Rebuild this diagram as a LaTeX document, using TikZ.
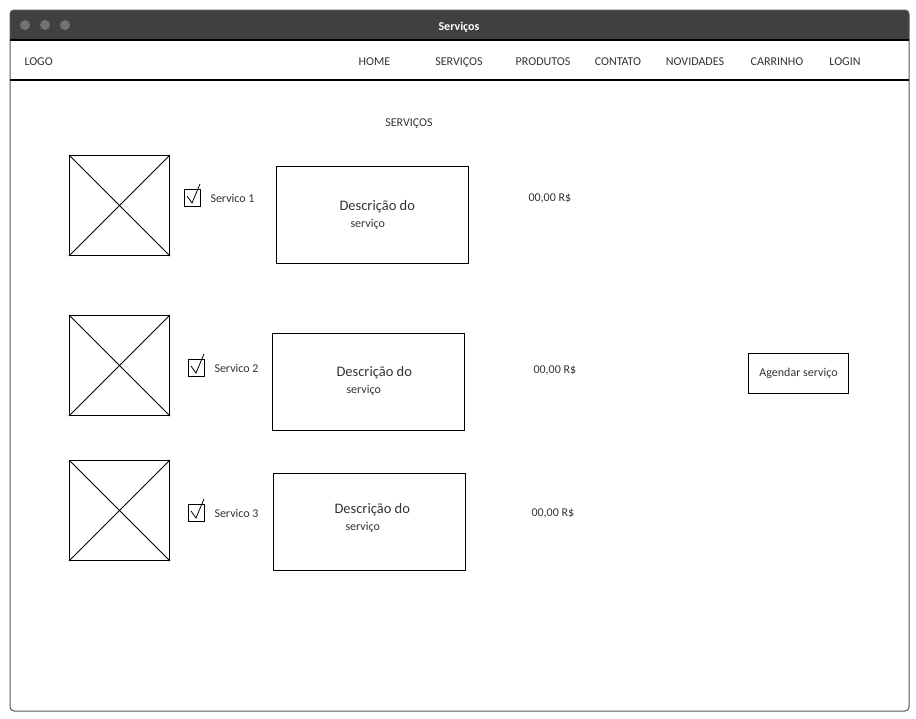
\documentclass[tikz,border=0pt]{standalone}
\usepackage{fontspec}
\setmainfont{Carlito}
\definecolor{barcol}{HTML}{404040}
\definecolor{dotcol}{HTML}{727272}
\definecolor{framecol}{HTML}{555555}
\definecolor{txtcol}{HTML}{333333}
\begin{document}
\begin{tikzpicture}[x=1pt,y=-1pt,line width=1pt,
    txt/.style={text=txtcol,inner sep=0pt,font=\fontsize{12}{14}\selectfont},
    navitem/.style={txt,anchor=base},
    desctxt/.style={txt,anchor=base west,font=\fontsize{14.5}{16}\selectfont},
    imgbox/.style={draw,anchor=north west,inner sep=0pt,minimum width=100pt,minimum height=100pt},
    chkbox/.style={draw,anchor=north west,inner sep=0pt,minimum width=16pt,minimum height=17pt},
    descbox/.style={draw,anchor=north west,inner sep=0pt,minimum width=192pt,minimum height=97pt},
    dot/.style={circle,fill=dotcol,inner sep=0pt,minimum size=10pt}]
        \useasboundingbox (0,0) rectangle (916,718);

        % janela
        \fill[barcol] (10,40) [rounded corners=4pt] -- (10,10) -- (909,10) [sharp corners] -- (909,40) -- cycle;
        \draw[framecol,rounded corners=4pt] (10,10) rectangle (909,711);
        \node[dot] (d1) at (25,25) {};
        \node[dot] (d2) at (45,25) {};
        \node[dot] (d3) at (65,25) {};
        \node[txt,anchor=base,text=white,font=\fontsize{12}{14}\selectfont\bfseries] (titulo) at (459,30) {Serviços};

        % menu
        \draw[line width=1.3pt] (10,40) -- (909,40);
        \draw[line width=1.3pt] (10,80) -- (909,80);
        \node[txt,anchor=base west] (logo) at (24,65) {LOGO};
        \node[navitem] (home) at (374.5,65) {HOME};
        \node[navitem] (servicos) at (459,65) {SERVIÇOS};
        \node[navitem] (produtos) at (543,65) {PRODUTOS};
        \node[navitem] (contato) at (618,65) {CONTATO};
        \node[navitem] (novidades) at (695,65) {NOVIDADES};
        \node[navitem] (carrinho) at (777,65) {CARRINHO};
        \node[navitem] (login) at (845,65) {LOGIN};

        \node[navitem] (cabecalho) at (409,126) {SERVIÇOS};

        % servico 1
        \node[imgbox] (img1) at (69,155) {};
        \draw[line width=0.8pt] (img1.north west) -- (img1.south east);
        \draw[line width=0.8pt] (img1.south west) -- (img1.north east);
        \node[chkbox] (chk1) at (184,189) {};
        \draw[line width=0.8pt] ([shift={(3,7)}]chk1.north west) -- ([shift={(8,14)}]chk1.north west) -- ([shift={(16,-5)}]chk1.north west);
        \node[txt,anchor=base west] (lbl1) at (210,202) {Servico 1};
        \node[descbox] (desc1) at (276,166) {};
        \node[desctxt] (desc1a) at (339,210) {Descrição do};
        \node[txt,anchor=base west] (desc1b) at (350,227) {serviço};
        \node[txt,anchor=base west] (preco1) at (528,201) {00,00 R\$};

        % servico 2
        \node[imgbox] (img2) at (69,315) {};
        \draw[line width=0.8pt] (img2.north west) -- (img2.south east);
        \draw[line width=0.8pt] (img2.south west) -- (img2.north east);
        \node[chkbox] (chk2) at (188,359) {};
        \draw[line width=0.8pt] ([shift={(3,7)}]chk2.north west) -- ([shift={(8,14)}]chk2.north west) -- ([shift={(16,-5)}]chk2.north west);
        \node[txt,anchor=base west] (lbl2) at (214,372) {Servico 2};
        \node[descbox] (desc2) at (272,333) {};
        \node[desctxt] (desc2a) at (336,376) {Descrição do};
        \node[txt,anchor=base west] (desc2b) at (346,393) {serviço};
        \node[txt,anchor=base west] (preco2) at (533,373) {00,00 R\$};

        % servico 3
        \node[imgbox] (img3) at (69,460) {};
        \draw[line width=0.8pt] (img3.north west) -- (img3.south east);
        \draw[line width=0.8pt] (img3.south west) -- (img3.north east);
        \node[chkbox] (chk3) at (188,504) {};
        \draw[line width=0.8pt] ([shift={(3,7)}]chk3.north west) -- ([shift={(8,14)}]chk3.north west) -- ([shift={(16,-5)}]chk3.north west);
        \node[txt,anchor=base west] (lbl3) at (214,517) {Servico 3};
        \node[descbox] (desc3) at (273,473) {};
        \node[desctxt] (desc3a) at (334,513) {Descrição do};
        \node[txt,anchor=base west] (desc3b) at (345,530) {serviço};
        \node[txt,anchor=base west] (preco3) at (531,516) {00,00 R\$};

        % botao
        \node[draw,txt,minimum width=100pt,minimum height=40pt] (agendar) at (798.5,373) {Agendar serviço};

    \end{tikzpicture}
\end{document}
